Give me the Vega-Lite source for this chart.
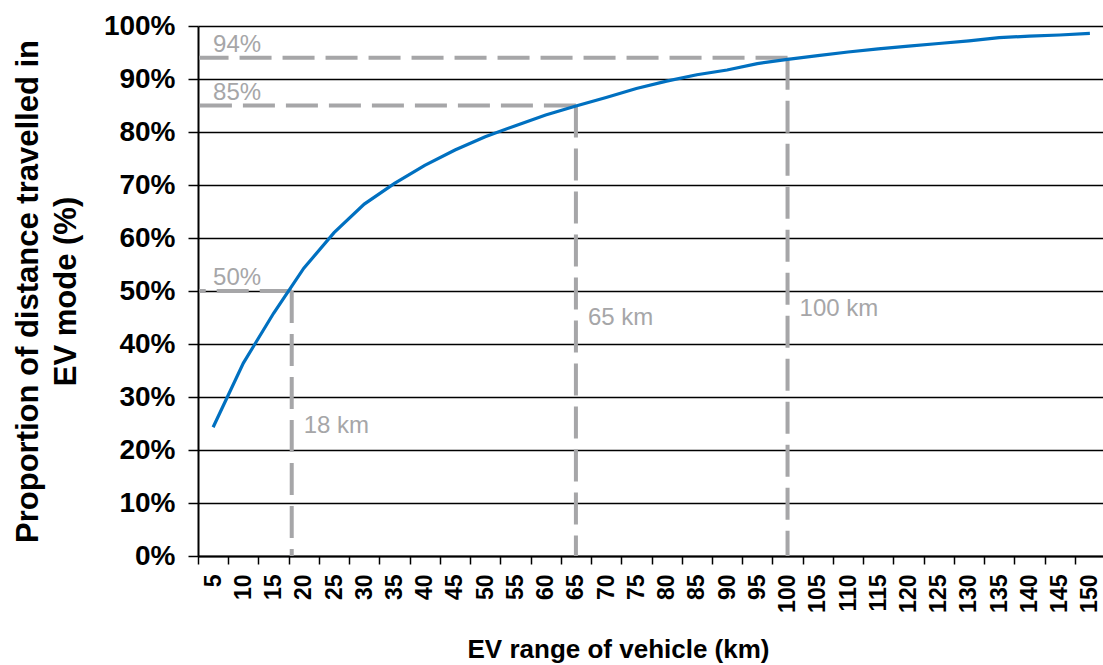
{
  "$schema": "https://vega.github.io/schema/vega-lite/v6.json",
  "width": 907,
  "height": 530,
  "autosize": {"type": "none"},
  "padding": {"left": 198, "top": 26, "right": 0, "bottom": 109},
  "background": "white",
  "config": {
    "view": {"stroke": null},
    "font": "Liberation Sans"
  },
  "datasets": {
    "curve": [
      {"km": 5, "share": 0.243}, {"km": 10, "share": 0.364}, {"km": 15, "share": 0.458},
      {"km": 20, "share": 0.543}, {"km": 25, "share": 0.61}, {"km": 30, "share": 0.664},
      {"km": 35, "share": 0.703}, {"km": 40, "share": 0.737}, {"km": 45, "share": 0.766},
      {"km": 50, "share": 0.791}, {"km": 55, "share": 0.812}, {"km": 60, "share": 0.832},
      {"km": 65, "share": 0.849}, {"km": 70, "share": 0.865}, {"km": 75, "share": 0.882},
      {"km": 80, "share": 0.896}, {"km": 85, "share": 0.908}, {"km": 90, "share": 0.917},
      {"km": 95, "share": 0.929}, {"km": 100, "share": 0.937}, {"km": 105, "share": 0.944},
      {"km": 110, "share": 0.951}, {"km": 115, "share": 0.957}, {"km": 120, "share": 0.962},
      {"km": 125, "share": 0.967}, {"km": 130, "share": 0.972}, {"km": 135, "share": 0.978},
      {"km": 140, "share": 0.981}, {"km": 145, "share": 0.983}, {"km": 150, "share": 0.986}
    ],
    "guides": [
      {"km": 18, "pct": 0.5, "pctLabel": "50%", "kmLabel": "18 km"},
      {"km": 65, "pct": 0.85, "pctLabel": "85%", "kmLabel": "65 km"},
      {"km": 100, "pct": 0.94, "pctLabel": "94%", "kmLabel": "100 km"}
    ]
  },
  "encoding": {
    "x": {
      "type": "quantitative",
      "scale": {"domain": [2.5, 152.5], "nice": false, "zero": false},
      "axis": {
        "values": [2.5, 5, 7.5, 10, 12.5, 15, 17.5, 20, 22.5, 25, 27.5, 30, 32.5, 35, 37.5, 40, 42.5, 45, 47.5, 50, 52.5, 55, 57.5, 60, 62.5, 65, 67.5, 70, 72.5, 75, 77.5, 80, 82.5, 85, 87.5, 90, 92.5, 95, 97.5, 100, 102.5, 105, 107.5, 110, 112.5, 115, 117.5, 120, 122.5, 125, 127.5, 130, 132.5, 135, 137.5, 140, 142.5, 145, 147.5, 150, 152.5],
        "labelExpr": "datum.value % 5 === 0 ? format(datum.value, 'd') : ''",
        "tickOpacity": {"condition": {"test": "datum.value % 5 === 0", "value": 0}, "value": 1},
        "grid": false,
        "labelAngle": -90,
        "labelAlign": "right",
        "labelBaseline": "middle",
        "labelFont": "Liberation Sans",
        "labelFontWeight": "bold",
        "labelFontSize": 23,
        "labelColor": "black",
        "labelPadding": 10,
        "labelOverlap": false,
        "labelFlush": false,
        "labelBound": false,
        "tickColor": "black",
        "tickWidth": 1.5,
        "tickSize": 8,
        "domainColor": "black",
        "domainWidth": 2,
        "title": "EV range of vehicle (km)",
        "titleFont": "Liberation Sans",
        "titleFontWeight": "bold",
        "titleFontSize": 26,
        "titleColor": "black",
        "titleX": 420,
        "titleY": 101,
        "titleAlign": "center",
        "titleBaseline": "alphabetic"
      }
    },
    "y": {
      "type": "quantitative",
      "scale": {"domain": [0, 1], "nice": false},
      "axis": {
        "values": [0, 0.1, 0.2, 0.3, 0.4, 0.5, 0.6, 0.7, 0.8, 0.9, 1],
        "format": ".0%",
        "grid": true,
        "gridColor": "black",
        "gridWidth": 1.5,
        "gridOpacity": 1,
        "labelFont": "Liberation Sans",
        "labelFontWeight": "bold",
        "labelFontSize": 28,
        "labelColor": "black",
        "labelPadding": 13,
        "tickColor": "black",
        "tickWidth": 1.5,
        "tickSize": 10,
        "domainColor": "black",
        "domainWidth": 2,
        "title": ["Proportion of distance travelled in", "EV mode (%)"],
        "titleFont": "Liberation Sans",
        "titleFontWeight": "bold",
        "titleFontSize": 31,
        "titleColor": "black",
        "titleLineHeight": 38,
        "titleX": -170,
        "titleY": 265,
        "titleAngle": -90,
        "titleAlign": "center",
        "titleBaseline": "middle"
      }
    }
  },
  "layer": [
    {
      "data": {"name": "guides"},
      "mark": {"type": "rule", "color": "#a6a6a8", "strokeWidth": 4, "strokeDash": [32, 11]},
      "encoding": {
        "x": {"field": "km"},
        "x2": {"datum": 2.7},
        "y": {"field": "pct"}
      }
    },
    {
      "data": {"name": "guides"},
      "mark": {"type": "rule", "color": "#a6a6a8", "strokeWidth": 4, "strokeDash": [32, 11]},
      "encoding": {
        "x": {"field": "km"},
        "y": {"field": "pct"},
        "y2": {"datum": 0}
      }
    },
    {
      "data": {"name": "guides"},
      "mark": {"type": "text", "color": "#a6a6a8", "fontSize": 24, "align": "left", "baseline": "alphabetic", "dy": -6},
      "encoding": {
        "x": {"datum": 5},
        "y": {"field": "pct"},
        "text": {"field": "pctLabel"}
      }
    },
    {
      "data": {"values": [{"kmLabel": "18 km", "km": 18}]},
      "mark": {"type": "text", "color": "#a6a6a8", "fontSize": 24, "align": "left", "baseline": "alphabetic", "dx": 12},
      "encoding": {
        "x": {"field": "km"},
        "y": {"datum": 0.232},
        "text": {"field": "kmLabel"}
      }
    },
    {
      "data": {"values": [{"kmLabel": "65 km", "km": 65}]},
      "mark": {"type": "text", "color": "#a6a6a8", "fontSize": 24, "align": "left", "baseline": "alphabetic", "dx": 12},
      "encoding": {
        "x": {"field": "km"},
        "y": {"datum": 0.436},
        "text": {"field": "kmLabel"}
      }
    },
    {
      "data": {"values": [{"kmLabel": "100 km", "km": 100}]},
      "mark": {"type": "text", "color": "#a6a6a8", "fontSize": 24, "align": "left", "baseline": "alphabetic", "dx": 12},
      "encoding": {
        "x": {"field": "km"},
        "y": {"datum": 0.453},
        "text": {"field": "kmLabel"}
      }
    },
    {
      "data": {"name": "curve"},
      "mark": {"type": "line", "color": "#0070c0", "strokeWidth": 3.2},
      "encoding": {
        "x": {"field": "km"},
        "y": {"field": "share"}
      }
    }
  ]
}
